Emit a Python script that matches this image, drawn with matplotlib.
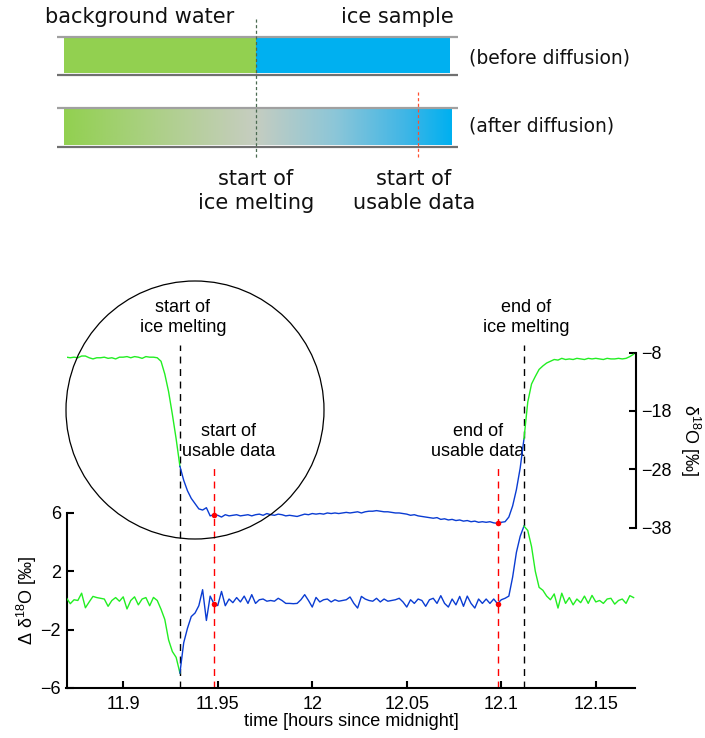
import numpy as np
import matplotlib
matplotlib.use('Agg')
from matplotlib import pyplot as plt
from matplotlib.patches import Rectangle, Circle
from matplotlib.colors import LinearSegmentedColormap

plt.rcParams['font.family'] = 'Liberation Sans'
plt.rcParams['mathtext.fontset'] = 'custom'
plt.rcParams['mathtext.rm'] = 'Liberation Sans'
plt.rcParams['mathtext.default'] = 'regular'

# sampling of the measurement [hours since midnight]
t0 = 11.87
dt = 0.002

# d18O of the melt water [permil] (right axis)
d18o = [-8.8, -8.9, -8.8, -8.9, -8.6, -8.6, -8.9, -9.1, -8.9, -8.9,
        -8.8, -9.0, -8.9, -9.1, -8.8, -8.8, -8.7, -8.9, -8.7, -8.8,
        -9.0, -8.7, -8.8, -8.8, -8.9,
        -9.5, -11.7, -14.7, -18.6, -22.8, -27.5,
        -29.9, -31.7, -33.0, -33.9, -34.8, -35.0, -34.6, -36.0, -35.8, -35.9,
        -36.2, -35.8, -36.0, -35.9, -35.8, -36.0, -35.9, -35.8, -36.0, -35.8,
        -35.7, -35.9, -35.6, -35.8, -35.9, -35.7, -35.8, -36.0, -35.9, -36.0,
        -36.1, -35.9, -35.7, -35.8, -35.6, -35.7, -35.6, -35.7, -35.5, -35.6,
        -35.5, -35.6, -35.5, -35.4, -35.5, -35.4, -35.3, -35.5, -35.3, -35.2,
        -35.2, -35.1, -35.2, -35.3, -35.3, -35.4, -35.5, -35.5, -35.6, -35.7,
        -35.9, -35.8, -36.0, -36.1, -36.2, -36.3, -36.4, -36.3, -36.6, -36.5,
        -36.7, -36.6, -36.8, -36.7, -36.9, -36.8, -37.0, -36.9, -37.1, -37.0,
        -37.1, -37.0, -37.2, -37.27, -37.1, -37.0, -36.2, -34.3, -31.5, -27.8,
        -22.8, -16.5, -13.4, -12.1, -10.9, -10.3, -9.8, -9.5, -9.2, -9.3,
        -9.0, -9.2, -9.1, -9.2, -9.0, -9.1, -9.2, -9.0, -9.1, -9.0,
        -9.1, -9.2, -9.0, -9.1, -9.1, -9.0, -9.1, -9.0, -8.7, -8.3]

# difference between neighbouring d18O values [permil] (left axis)
dd18o = [0.17, -0.22, 0.05, 0.0, 0.5, -0.5, -0.1, 0.28, 0.2, 0.15,
         0.1, -0.4, 0.0, 0.2, -0.05, 0.25, -0.58, 0.0, 0.25, -0.3,
         0.1, 0.2, -0.36, 0.21, 0.0,
         -0.6, -1.3, -2.7, -3.5, -3.9, -4.97,
         -2.9, -1.9, -1.1, -0.86, -0.36, 0.74, -1.37, 0.3, -0.22, -0.35,
         0.62, -0.36, 0.1, -0.15, 0.2, -0.1, 0.3, -0.2, 0.4, -0.2,
         0.05, 0.1, -0.05, 0.0, -0.05, 0.15, 0.0, -0.2, -0.2, -0.22,
         -0.2, 0.05, 0.4, 0.0, -0.45, 0.21, -0.1, 0.05, 0.1, -0.1,
         0.05, -0.05, 0.0, 0.05, 0.24, -0.2, -0.52, 0.28, 0.1, 0.0,
         -0.05, 0.15, -0.1, 0.1, -0.05, 0.0, 0.05, 0.15, -0.1, -0.45,
         0.05, -0.2, 0.1, 0.0, -0.4, 0.05, 0.15, -0.2, 0.33, -0.2,
         -0.45, 0.1, -0.3, 0.28, -0.4, 0.3, -0.2, -0.52, 0.1, -0.2,
         0.1, -0.2, 0.1, -0.22, 0.05, 0.15, 0.3, 1.6, 3.3, 4.4,
         5.1, 4.8, 3.7, 2.0, 0.9, 0.7, 0.3, 0.05, 0.45, -0.52,
         0.5, -0.2, 0.2, -0.3, 0.1, -0.15, 0.3, -0.2, 0.35, -0.1,
         0.0, -0.2, 0.1, 0.15, -0.25, 0.0, 0.1, -0.2, 0.33, 0.2]

# sample index of: start of ice melting, start of usable data,
# end of usable data, end of ice melting
i_melt0, i_use0, i_use1, i_melt1 = 30, 39, 114, 121

xticks = [11.9, 11.95, 12, 12.05, 12.1, 12.15]
xticklabels = ['11.9', '11.95', '12', '12.05', '12.1', '12.15']
left_ticks = [-6, -2, 2, 6]
right_ticks = [-38, -28, -18, -8]

GREEN = '#22ee22'
BLUE = '#0a3cd2'
FS = 13

W, H = 705, 738


def px_axes(left, top, right, bottom):
    """axes rectangle from pixel edges (origin top left)"""
    return [left/W, 1 - bottom/H, (right - left)/W, (bottom - top)/H]


fig = plt.figure(figsize=(W/100, H/100), dpi=100)

ax = fig.add_axes(px_axes(66.5, 300, 635.5, 688))
ax2 = ax.twinx()

time = t0 + dt*np.arange(len(d18o))
d18o = np.array(d18o)
dd18o = np.array(dd18o)

segments = [(0, i_melt0, GREEN), (i_melt0, i_melt1, BLUE), (i_melt1, len(time) - 1, GREEN)]
for a, b, c in segments:
    ax.plot(time[a:b+1], dd18o[a:b+1], color=c, lw=1.0, zorder=3)
    ax2.plot(time[a:b+1], d18o[a:b+1], color=c, lw=1.0, zorder=3)

for i in (i_use0, i_use1):
    ax.plot(time[i], dd18o[i], 'o', color='red', ms=4, mec='none', zorder=5)
    ax2.plot(time[i], d18o[i], 'o', color='red', ms=4, mec='none', zorder=5)

# event markers
for i in (i_melt0, i_melt1):
    ax.plot([time[i], time[i]], [-6, 17.5], color='black', lw=1.0, ls=(0, (5, 4)), zorder=2)
for i in (i_use0, i_use1):
    ax.plot([time[i], time[i]], [-6, 9.3], color='red', lw=1.0, ls=(0, (5, 4)), zorder=2)

ax.text(time[i_melt0] + 0.0015, 19.4, 'start of\nice melting', ha='center', va='center', fontsize=FS)
ax.text(time[i_use0] + 0.0075, 10.9, 'start of\nusable data', ha='center', va='center', fontsize=FS)
ax.text(time[i_use1] - 0.0105, 10.9, 'end of\nusable data', ha='center', va='center', fontsize=FS)
ax.text(time[i_melt1] + 0.001, 19.4, 'end of\nice melting', ha='center', va='center', fontsize=FS)

ax.set_xlim(11.87, 12.171)
ax.set_ylim(-6, 20.6)
ax2.set_ylim(-65.5, 1.0)

for s in ['top', 'right']:
    ax.spines[s].set_visible(False)
for s in ['top', 'left', 'bottom']:
    ax2.spines[s].set_visible(False)
ax.spines['left'].set_bounds(-6, 6)
ax2.spines['right'].set_bounds(-38, -8)
for sp in (ax.spines['left'], ax.spines['bottom'], ax2.spines['right']):
    sp.set_linewidth(1.5)

ax.set_xticks(xticks, xticklabels)
ax.set_yticks(left_ticks)
ax2.set_yticks(right_ticks)
ax.tick_params(axis='x', direction='in', length=5, width=1.5, labelsize=FS, pad=6)
ax.tick_params(axis='y', direction='in', length=5, width=1.5, labelsize=FS, pad=4)
ax2.tick_params(axis='y', direction='in', length=5, width=1.5, labelsize=FS, pad=4)

ax.set_xlabel('time [hours since midnight]', fontsize=FS, labelpad=0)
ax.text(-0.069, 0.2255, 'Δ δ$^{18}$O [‰]', rotation=90, ha='center', va='center',
        fontsize=FS, transform=ax.transAxes)
ax.text(1.0958, 0.639, 'δ$^{18}$O [‰]', rotation=270, ha='center', va='center',
        fontsize=FS, transform=ax.transAxes)

# sketch of the diffusion at the start of a sample (pixel coordinates)
sk = fig.add_axes([0, 0, 1, 1])
sk.patch.set_alpha(0)

gradient = LinearSegmentedColormap.from_list(
    'diffusion', [(0.0, '#92d050'), (0.25, '#aed08a'), (0.49, '#c6cdc0'),
                  (0.7, '#8cc6d8'), (0.88, '#40b6e6'), (1.0, '#00b0f0')])

sk.add_patch(Rectangle((64, 38.3), 191.7, 35, color='#92d050', lw=0))
sk.add_patch(Rectangle((255.7, 38.3), 194.3, 35, color='#00b0f0', lw=0))
sk.imshow(np.linspace(0, 1, 256)[None, :], cmap=gradient, aspect='auto',
          extent=[64, 452, 145.5, 109.5], zorder=1)

for y_top, y_bot in [(37.3, 75), (108.3, 146.7)]:
    sk.plot([57.3, 457.7], [y_top, y_top], color='#a0a0a0', lw=1.6, solid_capstyle='butt')
    sk.plot([57.3, 457.7], [y_bot, y_bot], color='#707070', lw=1.6, solid_capstyle='butt')

sk.plot([255.7, 255.7], [19.3, 159.3], color='#4a6a50', lw=0.9, ls=(0, (2.5, 2)), zorder=4)
sk.plot([417.5, 417.5], [91.7, 159.3], color='#ff5030', lw=0.9, ls=(0, (2.5, 2)), zorder=4)

sketch_font = dict(family='DejaVu Sans', color='#111111')
sk.text(45, 22.7, 'background water', fontsize=15, ha='left', va='baseline', **sketch_font)
sk.text(453.3, 22.7, 'ice sample', fontsize=15, ha='right', va='baseline', **sketch_font)
sk.text(469, 58.3, '(before diffusion)', fontsize=13.5, ha='left', va='center', **sketch_font)
sk.text(469, 126.5, '(after diffusion)', fontsize=13.5, ha='left', va='center', **sketch_font)
sk.text(256, 191, 'start of\nice melting', fontsize=15, ha='center', va='center', **sketch_font)
sk.text(414, 191, 'start of\nusable data', fontsize=15, ha='center', va='center', **sketch_font)

sk.add_patch(Circle((195, 410), 129, fill=False, ec='black', lw=0.9, zorder=5))

sk.set_xlim(0, W)
sk.set_ylim(H, 0)
sk.axis('off')

fig.savefig('out.png', dpi=100)
